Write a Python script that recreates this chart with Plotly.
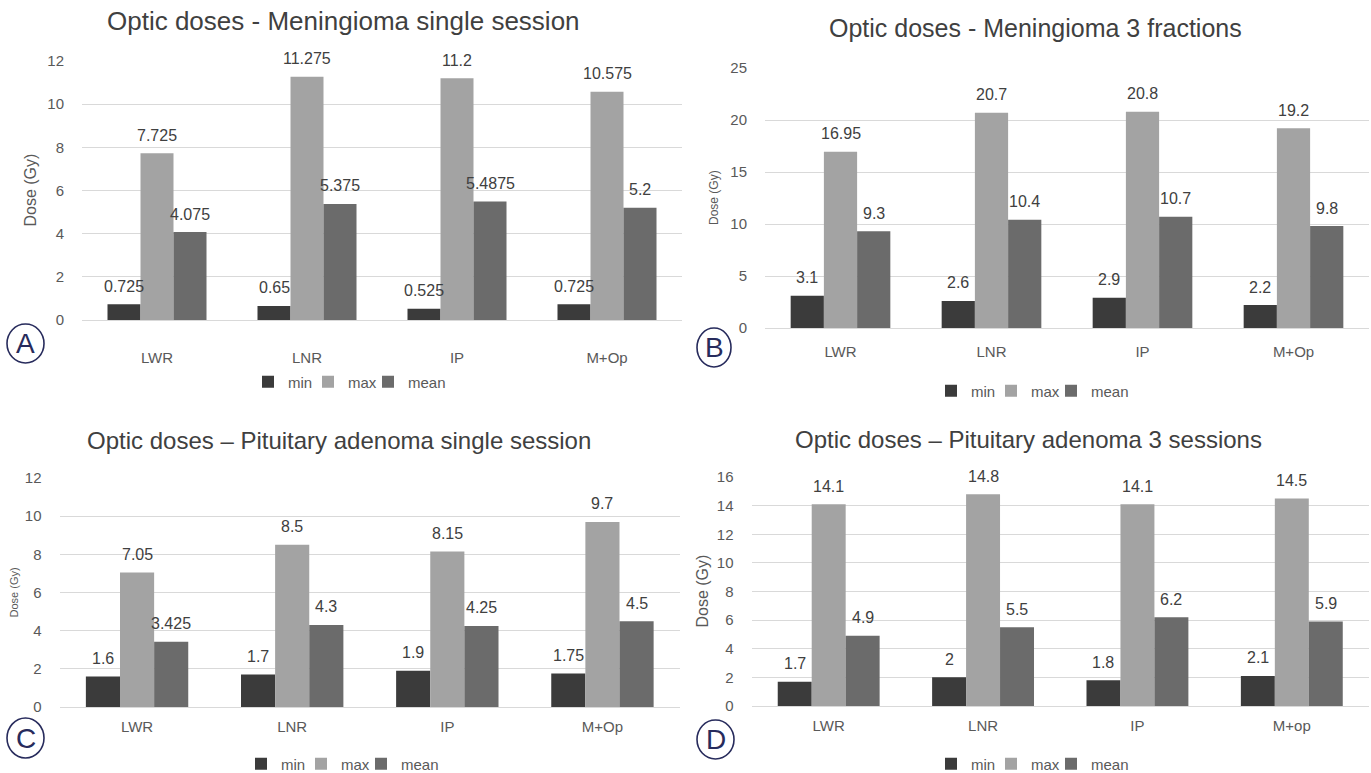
import plotly.graph_objects as go

W, H = 1371, 773

categories_abc = ["LWR", "LNR", "IP", "M+Op"]
categories_d = ["LWR", "LNR", "IP", "M+op"]
series_names = ["min", "max", "mean"]

a_min = [0.725, 0.65, 0.525, 0.725]
a_max = [7.725, 11.275, 11.2, 10.575]
a_mean = [4.075, 5.375, 5.4875, 5.2]

b_min = [3.1, 2.6, 2.9, 2.2]
b_max = [16.95, 20.7, 20.8, 19.2]
b_mean = [9.3, 10.4, 10.7, 9.8]

c_min = [1.6, 1.7, 1.9, 1.75]
c_max = [7.05, 8.5, 8.15, 9.7]
c_mean = [3.425, 4.3, 4.25, 4.5]

d_min = [1.7, 2, 1.8, 2.1]
d_max = [14.1, 14.8, 14.1, 14.5]
d_mean = [4.9, 5.5, 6.2, 5.9]

titles = [
    "Optic doses - Meningioma single session",
    "Optic doses - Meningioma 3 fractions",
    "Optic doses \u2013 Pituitary adenoma single session",
    "Optic doses \u2013 Pituitary adenoma 3 sessions",
]
letters = ["A", "B", "C", "D"]
y_ranges = [[0, 12], [0, 25], [0, 12], [0, 16]]
y_dticks = [2, 5, 2, 2]

colors = ["#3b3b3b", "#a3a3a3", "#6b6b6b"]
FONT = "Liberation Sans, Arial, sans-serif"
TXT = "#404040"
BARGAP = 0.34


def px(x):
    return x / W


def py(y):
    return 1 - y / H


# layout geometry in pixels: plot left, right, top, bottom
panels = [
    dict(l=82, r=682, t=61, b=320, title_x=343, title_y=21, title_size=26,
         ytitle_x=30, ytitle_size=16, leg_x=368, leg_y=382, xstand=27,
         circ=(7, 44, 324, 363)),
    dict(l=765, r=1369, t=68, b=328, title_x=1035, title_y=28, title_size=25,
         ytitle_x=714, ytitle_size=12, leg_x=1051, leg_y=391, xstand=13,
         circ=(697, 731, 328, 367)),
    dict(l=59.5, r=680, t=478, b=707, title_x=339, title_y=440, title_size=24,
         ytitle_x=13, ytitle_size=11, leg_x=361, leg_y=764, xstand=9,
         circ=(7, 44, 718, 758)),
    dict(l=751.5, r=1369, t=477, b=706, title_x=1028, title_y=439, title_size=24,
         ytitle_x=702, ytitle_size=16, leg_x=1051, leg_y=764, xstand=9,
         circ=(697, 734, 720, 759)),
]

data_sets = [
    (categories_abc, [a_min, a_max, a_mean]),
    (categories_abc, [b_min, b_max, b_mean]),
    (categories_abc, [c_min, c_max, c_mean]),
    (categories_d, [d_min, d_max, d_mean]),
]

fig = go.Figure()
annotations = []
shapes = []
layout_updates = {}

bar_w = (1 - BARGAP) / 3

for i, (p, (cats, vals)) in enumerate(zip(panels, data_sets)):
    n = i + 1
    xa = "x" if n == 1 else f"x{n}"
    ya = "y" if n == 1 else f"y{n}"
    leg = "legend" if n == 1 else f"legend{n}"
    idx = list(range(len(cats)))
    for k, (name, v) in enumerate(zip(series_names, vals)):
        fig.add_trace(go.Bar(
            x=idx, y=v, name=name, marker=dict(color=colors[k], line=dict(width=0)),
            xaxis=xa, yaxis=ya, legend=leg, showlegend=True,
            offsetgroup=str(k), hoverinfo="skip",
        ))
        for j, val in enumerate(v):
            annotations.append(dict(
                x=j + (k - 1) * bar_w, y=val, xref=xa, yref=ya,
                text=f"{val:g}", showarrow=False, yanchor="middle", yshift=18,
                font=dict(family=FONT, size=16, color=TXT),
            ))
    # empty spacer entry so the compact legend does not clip the last label
    fig.add_trace(go.Scatter(
        x=[None], y=[None], name=" ", mode="markers",
        marker=dict(color="rgba(0,0,0,0)", size=1, line=dict(width=0)),
        xaxis=xa, yaxis=ya, legend=leg, showlegend=True, hoverinfo="skip",
    ))
    xkey = "xaxis" if n == 1 else f"xaxis{n}"
    ykey = "yaxis" if n == 1 else f"yaxis{n}"
    layout_updates[xkey] = dict(
        domain=[px(p["l"]), px(p["r"])], anchor=ya, range=[-0.5, len(cats) - 0.5],
        tickvals=idx, ticktext=cats, showgrid=False, zeroline=False, showline=False,
        ticks="", ticklabelstandoff=p["xstand"],
        tickfont=dict(family=FONT, size=15, color="#595959"), fixedrange=True,
    )
    layout_updates[ykey] = dict(
        domain=[py(p["b"]), py(p["t"])], anchor=xa, range=y_ranges[i],
        dtick=y_dticks[i], tick0=0, showgrid=True, gridcolor="#d9d9d9", gridwidth=1.4,
        zeroline=True, zerolinecolor="#d9d9d9", zerolinewidth=1.4, showline=False,
        ticks="", ticklabelstandoff=17,
        tickfont=dict(family=FONT, size=15, color="#595959"), fixedrange=True,
    )
    layout_updates[leg] = dict(
        orientation="h", x=px(p["leg_x"]), xanchor="center", y=py(p["leg_y"]),
        yanchor="middle", font=dict(family=FONT, size=15, color="#595959"),
        itemwidth=30, entrywidth=15, entrywidthmode="pixels",
        bgcolor="rgba(0,0,0,0)", traceorder="normal",
        itemclick=False, itemdoubleclick=False,
    )
    annotations.append(dict(
        x=px(p["title_x"]), y=py(p["title_y"]), xref="paper", yref="paper",
        text=titles[i], showarrow=False, xanchor="center", yanchor="middle",
        font=dict(family=FONT, size=p["title_size"], color=TXT),
    ))
    annotations.append(dict(
        x=px(p["ytitle_x"]), y=py((p["t"] + p["b"]) / 2), xref="paper", yref="paper",
        text="Dose (Gy)", textangle=-90, showarrow=False, xanchor="center", yanchor="middle",
        font=dict(family=FONT, size=p["ytitle_size"], color="#595959"),
    ))
    cx0, cx1, cy0, cy1 = p["circ"]
    shapes.append(dict(
        type="circle", xref="paper", yref="paper",
        x0=px(cx0), x1=px(cx1), y0=py(cy1), y1=py(cy0),
        line=dict(color="#272b5c", width=1.6), fillcolor="rgba(0,0,0,0)",
    ))
    annotations.append(dict(
        x=px((cx0 + cx1) / 2), y=py((cy0 + cy1) / 2), xref="paper", yref="paper",
        text=letters[i], showarrow=False, xanchor="center", yanchor="middle",
        font=dict(family="Liberation Sans Narrow, Liberation Sans, sans-serif", size=28, color="#272b5c"),
    ))

fig.update_layout(
    width=W, height=H, margin=dict(l=0, r=0, t=0, b=0, autoexpand=False),
    paper_bgcolor="white", plot_bgcolor="white",
    barmode="group", bargap=BARGAP, bargroupgap=0,
    annotations=annotations, shapes=shapes,
    **layout_updates,
)

fig.write_html(
    "out.html",
    config={"displayModeBar": False},
    post_script="document.body.style.margin='0';document.body.style.overflow='hidden';",
)
